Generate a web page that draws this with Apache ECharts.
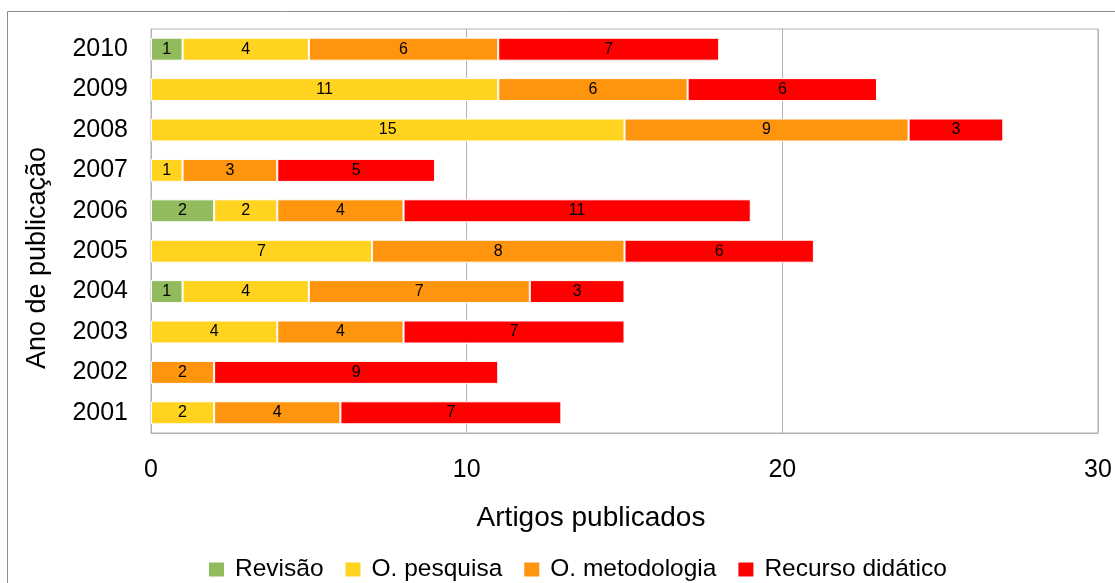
<!DOCTYPE html>
<html>
<head>
<meta charset="utf-8">
<script src="https://cdn.jsdelivr.net/npm/echarts@6/dist/echarts.min.js"></script>
<style>
    html, body { margin: 0; padding: 0; background: #fff; overflow: hidden; }
    #myChart { width: 1115px; height: 583px; }
</style>
</head>
<body>
<div id="myChart"></div>
<script>
// anos (de baixo para cima)
var anos = ['2001', '2002', '2003', '2004', '2005', '2006', '2007', '2008', '2009', '2010'];
// séries
var revisao     = [0, 0, 0, 1, 0, 2, 0, 0, 0, 1];
var pesquisa    = [2, 0, 4, 4, 7, 2, 1, 15, 11, 4];
var metodologia = [4, 2, 4, 7, 8, 4, 3, 9, 6, 6];
var recurso     = [7, 9, 7, 3, 6, 11, 5, 3, 6, 7];
var nomes = ['Revisão', 'O. pesquisa', 'O. metodologia', 'Recurso didático'];
var cores = ['#92bb5d', '#ffd320', '#ff950e', '#ff0000'];
var xTicks = [0, 10, 20, 30];

var fonte = '"Liberation Sans", Arial, sans-serif';

function serie(nome, valores, cor) {
    return {
        name: nome,
        type: 'bar',
        stack: 'total',
        barWidth: 23,
        itemStyle: { color: cor, borderColor: '#ffffff', borderWidth: 1 },
        label: {
            show: true,
            position: 'inside',
            color: '#000',
            fontFamily: fonte,
            fontSize: 16
        },
        // zero = sem barra
        data: valores.map(function (v) { return v === 0 ? null : v; })
    };
}

var myChart = echarts.init(document.getElementById('myChart'));
myChart.setOption({
    animation: false,
    color: cores,
    textStyle: { fontFamily: fonte },
    grid: {
        left: 151, right: 17, top: 29, bottom: 150,
        show: true, borderColor: '#b3b3b3', borderWidth: 1
    },
    legend: {
        data: nomes,
        left: 207,
        top: 557,
        padding: 0,
        icon: 'rect',
        itemWidth: 17,
        itemHeight: 16,
        itemGap: 20,
        textStyle: { fontSize: 24.5, color: '#000', fontFamily: fonte, padding: [0, 0, 0, 5] }
    },
    xAxis: {
        type: 'value',
        min: xTicks[0],
        max: xTicks[xTicks.length - 1],
        interval: 10,
        axisLine: { show: true, lineStyle: { color: '#b3b3b3' } },
        axisTick: { show: false },
        splitLine: { show: true, lineStyle: { color: '#b3b3b3', width: 1 } },
        axisLabel: { fontSize: 25, color: '#000', margin: 25, fontFamily: fonte }
    },
    yAxis: {
        type: 'category',
        data: anos,
        axisLine: { show: true, lineStyle: { color: '#b3b3b3' } },
        axisTick: { show: false },
        axisLabel: { fontSize: 25, color: '#000', margin: 23, fontFamily: fonte }
    },
    graphic: [
        {
            type: 'rect',
            z: -10,
            shape: { x: 7.5, y: 11.5, width: 1300, height: 800 },
            style: { fill: 'none', stroke: '#8c8c8c', lineWidth: 1 }
        },
        {
            type: 'text',
            x: 591,
            y: 518,
            style: {
                text: 'Artigos publicados',
                fontSize: 28,
                fontFamily: fonte,
                fill: '#000',
                align: 'center',
                verticalAlign: 'middle'
            }
        },
        {
            type: 'text',
            x: 38,
            y: 258,
            rotation: Math.PI / 2,
            style: {
                text: 'Ano de publicação',
                fontSize: 27,
                fontFamily: fonte,
                fill: '#000',
                align: 'center',
                verticalAlign: 'middle'
            }
        }
    ],
    series: [
        serie(nomes[0], revisao, cores[0]),
        serie(nomes[1], pesquisa, cores[1]),
        serie(nomes[2], metodologia, cores[2]),
        serie(nomes[3], recurso, cores[3])
    ]
});
</script>
</body>
</html>
